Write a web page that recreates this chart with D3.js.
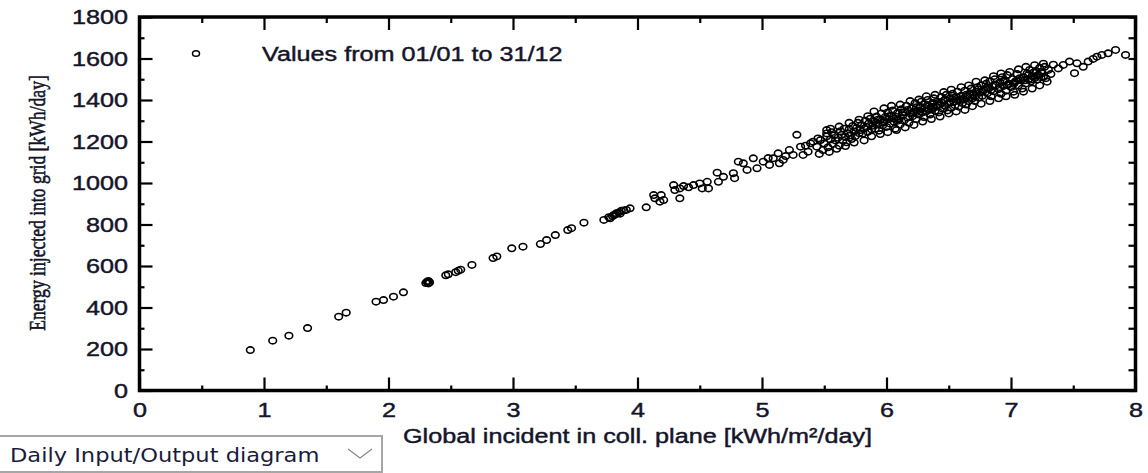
<!DOCTYPE html>
<html>
<head>
<meta charset="utf-8">
<script src="https://cdn.jsdelivr.net/npm/d3@7"></script>
<style>
  html, body { margin: 0; padding: 0; background: #fff; overflow: hidden; }
</style>
</head>
<body>
<div id="chart"></div>
<script>
// values: [global incident kWh/m2/day, energy into grid kWh/day]
const lowDays = [
  [0.89,195],[1.07,240],[1.20,264],[1.35,301],[1.60,356],[1.66,375],[1.90,428],[1.96,436],[2.04,452],[2.12,473],
  [2.30,518],[2.31,524],[2.32,528],[2.33,521],[2.32,516],[2.46,555],[2.48,560],[2.54,570],[2.56,577],[2.58,582],
  [2.67,605],[2.84,638],[2.87,646],[2.99,685],[3.08,693],[3.22,706],[3.27,725],[3.34,749],[3.44,773],[3.47,782],
  [3.57,809],[3.73,822],[3.77,835],[3.78,830],[3.80,840],[3.81,846],[3.82,848],[3.83,854],[3.85,858],[3.86,852],
  [3.87,866],[3.89,868],[3.91,870],[3.94,878],[4.07,883],[4.13,942],[4.14,926],[4.18,910],[4.19,942],[4.21,918],
  [4.29,990],[4.30,966],[4.34,974],[4.34,926],[4.37,985],[4.41,979],[4.45,990],[4.50,998],[4.52,974],[4.56,1006],
  [4.57,974],[4.64,1050],[4.65,1006],[4.69,1030]
];
const midDays = [
  [4.77,1047],[4.78,1023],[4.81,1103],[4.85,1095],[4.88,1063],[4.93,1119],[4.96,1071],[5.01,1103],[5.05,1120],[5.06,1087],
  [5.09,1119],[5.13,1143],[5.14,1095],[5.17,1111],[5.19,1130],[5.22,1159],[5.25,1135],[5.28,1232],[5.31,1175],[5.33,1135],
  [5.35,1180],[5.37,1151],[5.39,1191],[5.41,1199],[5.44,1175],[5.45,1215],[5.46,1140],[5.47,1207],[5.49,1159],[5.52,1239],[5.52,1255]
];
const bandDays = [
  [5.50,1190],[5.52,1225],[5.53,1172],[5.55,1210],[5.56,1245],[5.57,1188],[5.58,1230],[5.59,1205],
  [5.61,1218],[5.62,1180],[5.63,1250],[5.64,1232],[5.65,1205],[5.66,1262],[5.67,1222],[5.68,1196],[5.69,1240],
  [5.70,1258],[5.71,1230],[5.72,1212],[5.73,1275],[5.74,1248],[5.75,1226],[5.76,1265],[5.77,1290],[5.78,1240],[5.79,1255],
  [5.80,1280],[5.81,1238],[5.82,1262],[5.83,1300],[5.84,1270],[5.85,1246],[5.86,1288],[5.87,1310],[5.88,1258],[5.89,1276],
  [5.90,1296],[5.91,1262],[5.92,1320],[5.93,1285],[5.94,1252],[5.95,1305],[5.96,1335],[5.97,1278],[5.98,1298],[5.99,1318],
  [6.00,1270],[6.01,1340],[6.02,1308],[6.03,1286],[6.04,1325],[6.05,1350],[6.06,1295],[6.07,1262],[6.08,1318],[6.09,1338],
  [6.10,1305],[6.11,1282],[6.12,1355],[6.13,1326],[6.14,1300],[6.15,1342],[6.16,1372],[6.17,1315],[6.18,1290],[6.19,1335],
  [6.20,1360],[6.21,1322],[6.22,1345],[6.23,1385],[6.24,1308],[6.25,1350],[6.26,1330],[6.27,1368],[6.28,1392],[6.29,1340],
  [6.30,1318],[6.31,1362],[6.32,1345],[6.33,1400],[6.34,1372],[6.35,1330],[6.36,1355],[6.37,1385],[6.38,1408],[6.39,1348],
  [6.40,1368],[6.41,1392],[6.42,1340],[6.43,1378],[6.44,1415],[6.45,1358],[6.46,1396],[6.47,1372],[6.48,1425],[6.49,1350],
  [6.50,1385],[6.51,1408],[6.52,1362],[6.53,1430],[6.54,1392],[6.55,1375],[6.56,1415],[6.57,1440],[6.58,1368],[6.59,1400],
  [6.60,1420],[6.61,1385],[6.62,1402],[6.63,1445],[6.64,1378],[6.65,1418],[6.66,1395],[6.67,1432],[6.68,1455],[6.69,1408],
  [6.70,1425],[6.71,1395],[6.72,1440],[6.73,1462],[6.74,1412],[6.75,1435],[6.76,1470],[6.77,1420],[6.78,1448],
  [6.80,1478],[6.81,1432],[6.82,1455],[6.83,1490],[6.84,1418],[6.85,1465],[6.86,1442],[6.87,1500],[6.88,1470],
  [6.90,1452],[6.91,1485],[6.92,1430],[6.93,1510],[6.94,1468],[6.95,1495],[6.96,1445],[6.97,1520],[6.98,1478],
  [7.00,1462],[7.01,1500],[7.02,1440],[7.03,1485],[7.05,1525],[7.06,1470],[7.08,1495],[7.09,1455],
  [7.10,1510],[7.12,1480],[7.13,1528],[7.14,1500],[7.15,1545],[7.16,1490],[7.17,1515],[7.18,1532],[7.19,1505],
  [7.20,1540],[7.21,1498],[7.22,1520],[7.23,1555],[7.24,1510],[7.25,1530],[7.27,1560],[7.28,1505],[7.30,1545],[7.32,1525],[7.34,1570],
  [5.93,1305],[5.97,1290],[6.02,1322],[6.06,1310],[6.09,1300],[6.13,1340],[6.17,1352],[6.21,1338],[6.24,1365],[6.27,1345],
  [6.31,1380],[6.34,1352],[6.37,1366],[6.41,1375],[6.44,1388],[6.47,1402],[6.51,1390],[6.54,1410],[6.57,1398],[6.61,1405],
  [6.64,1425],[6.67,1412],[6.71,1418],[6.74,1452],[6.77,1440],[6.81,1460],[6.84,1448],[6.87,1475],[6.91,1462],[6.94,1490],
  [6.97,1472],[7.02,1478],[7.04,1492],[7.07,1505],[7.11,1495],[7.14,1520],[7.17,1500],[7.21,1518],[7.24,1535],[7.26,1512]
];
// days on the upper and lower edges of the dense band
const bandUpper = [
  [5.55,1262],[5.62,1272],[5.70,1290],[5.78,1305],[5.85,1322],[5.90,1345],[5.98,1360],[6.04,1372],[6.11,1378],
  [6.19,1395],[6.26,1402],[6.32,1418],[6.39,1425],[6.46,1438],[6.52,1450],[6.60,1462],[6.66,1470],[6.72,1488],
  [6.79,1495],[6.86,1515],[6.92,1528],[6.99,1535],[7.06,1548],[7.12,1560],[7.19,1568],[7.26,1575]
];
const bandLower = [
  [5.54,1150],[5.60,1165],[5.67,1178],[5.74,1195],[5.82,1205],[5.88,1225],[5.95,1236],[6.01,1245],[6.08,1255],
  [6.15,1268],[6.22,1280],[6.29,1296],[6.36,1308],[6.43,1320],[6.50,1335],[6.56,1345],[6.63,1352],[6.69,1370],
  [6.76,1382],[6.83,1395],[6.90,1408],[6.96,1418],[7.03,1425],[7.10,1440],[7.17,1455],[7.23,1470],[7.29,1488]
];
const tailDays = [
  [7.38,1552],[7.42,1569],[7.47,1585],[7.51,1529],[7.53,1577],[7.58,1560],[7.62,1585],[7.66,1598],
  [7.69,1609],[7.73,1617],[7.78,1625],[7.84,1641],[7.92,1617]
];

const xTicks = [0,1,2,3,4,5,6,7,8];
const xMinor = [0.5,1.5,2.5,3.5,4.5,5.5,6.5,7.5];
const yTicks = [0,200,400,600,800,1000,1200,1400,1600,1800];
const yMinor = [100,300,500,700,900,1100,1300,1500,1700];

const xTitle = "Global incident in coll. plane [kWh/m\u00b2/day]";
const yTitle = "Energy injected into grid [kWh/day]";
const legendText = "Values from 01/01 to 31/12";
const selectorText = "Daily Input/Output diagram";

const width = 1148, height = 473;
const stretch = 1.2; // the original glyphs are a bit wide
const sans = "'Liberation Sans', Arial, sans-serif";
const ink = "#15152a";

const svg = d3.select("#chart").append("svg")
  .attr("width", width).attr("height", height)
  .style("background", "#fff");

const x = d3.scaleLinear().domain([0, 8]).range([139.5, 1135.5]);
const y = d3.scaleLinear().domain([0, 1800]).range([390.5, 17]);

function boldish(t) {
  t.attr("fill", ink).attr("stroke", ink).attr("stroke-width", 0.45);
}

function styleAxis(g) {
  g.select(".domain").remove();
  g.selectAll(".tick line").attr("stroke", "#000").attr("stroke-width", 2.2);
  g.selectAll(".tick text")
    .call(boldish)
    .style("font-family", sans)
    .style("font-size", "21px");
}

// bottom axis with labels
svg.append("g")
  .attr("transform", `translate(0,${y(0)})`)
  .call(d3.axisBottom(x).tickValues(xTicks).tickSize(-13).tickPadding(11.5).tickFormat(d3.format("d")))
  .call(styleAxis)
  .selectAll(".tick text").attr("transform", `scale(${stretch},1)`);

svg.append("g")
  .attr("transform", `translate(0,${y(0)})`)
  .call(d3.axisBottom(x).tickValues(xMinor).tickSize(-5).tickFormat(""))
  .call(styleAxis);

// left axis with labels
svg.append("g")
  .attr("transform", `translate(${x(0)},0)`)
  .call(d3.axisLeft(y).tickValues(yTicks).tickSize(-13).tickPadding(11.5).tickFormat(d3.format("d")))
  .call(styleAxis)
  .selectAll(".tick text")
    .attr("x", -11.5 / stretch)
    .attr("transform", `scale(${stretch},1)`);

svg.append("g")
  .attr("transform", `translate(${x(0)},0)`)
  .call(d3.axisLeft(y).tickValues(yMinor).tickSize(-5).tickFormat(""))
  .call(styleAxis);

// top and right: ticks only
svg.append("g")
  .attr("transform", `translate(0,${y(1800)})`)
  .call(d3.axisTop(x).tickValues(xTicks).tickSize(-13).tickFormat(""))
  .call(styleAxis);
svg.append("g")
  .attr("transform", `translate(0,${y(1800)})`)
  .call(d3.axisTop(x).tickValues(xMinor).tickSize(-6).tickFormat(""))
  .call(styleAxis);
svg.append("g")
  .attr("transform", `translate(${x(8)},0)`)
  .call(d3.axisRight(y).tickValues(yTicks.concat(yMinor)).tickSize(-7).tickFormat(""))
  .call(styleAxis);

// frame
svg.append("rect")
  .attr("x", x(0)).attr("y", y(1800))
  .attr("width", x(8) - x(0)).attr("height", y(0) - y(1800))
  .attr("fill", "none").attr("stroke", "#000").attr("stroke-width", 3.5);

// points
const allDays = lowDays.concat(midDays, bandDays, bandUpper, bandLower, tailDays);
svg.append("g").selectAll("ellipse")
  .data(allDays)
  .join("ellipse")
    .attr("cx", d => x(d[0]))
    .attr("cy", d => y(d[1]))
    .attr("rx", 3.8).attr("ry", 3.2)
    .attr("fill", "none")
    .attr("stroke", "#000")
    .attr("stroke-width", 1.6);

// legend
svg.append("ellipse")
  .attr("cx", 196).attr("cy", 53.5).attr("rx", 3.5).attr("ry", 2.8)
  .attr("fill", "none").attr("stroke", "#000").attr("stroke-width", 1.5);
svg.append("text")
  .attr("transform", `translate(262,61) scale(${stretch},1)`)
  .call(boldish)
  .style("font-family", sans).style("font-size", "21px")
  .text(legendText);

// axis titles
svg.append("text")
  .attr("transform", `translate(${(x(0) + x(8)) / 2},443) scale(${stretch},1)`)
  .attr("text-anchor", "middle")
  .call(boldish)
  .style("font-family", sans).style("font-size", "21px")
  .text(xTitle);

svg.append("text")
  .attr("transform", `translate(45,203) scale(1.35,1) rotate(-90)`)
  .attr("text-anchor", "middle")
  .call(boldish)
  .style("font-family", "'Liberation Serif', 'Times New Roman', serif")
  .style("font-size", "17.6px")
  .text(yTitle);

// diagram selector below the chart
const sel = svg.append("g");
sel.append("rect")
  .attr("x", -2).attr("y", 436).attr("width", 384).attr("height", 36)
  .attr("fill", "#fff").attr("stroke", "#a6a6a6").attr("stroke-width", 2);
sel.append("text")
  .attr("transform", `translate(10,462) scale(${stretch},1)`)
  .attr("fill", "#1a1a3a")
  .style("font-family", "'DejaVu Sans', Verdana, sans-serif")
  .style("font-size", "18.8px")
  .text(selectorText);
sel.append("path")
  .attr("d", "M348,449 L360,458 L372,449")
  .attr("fill", "none").attr("stroke", "#8a8a8a").attr("stroke-width", 1.3);
</script>
</body>
</html>
